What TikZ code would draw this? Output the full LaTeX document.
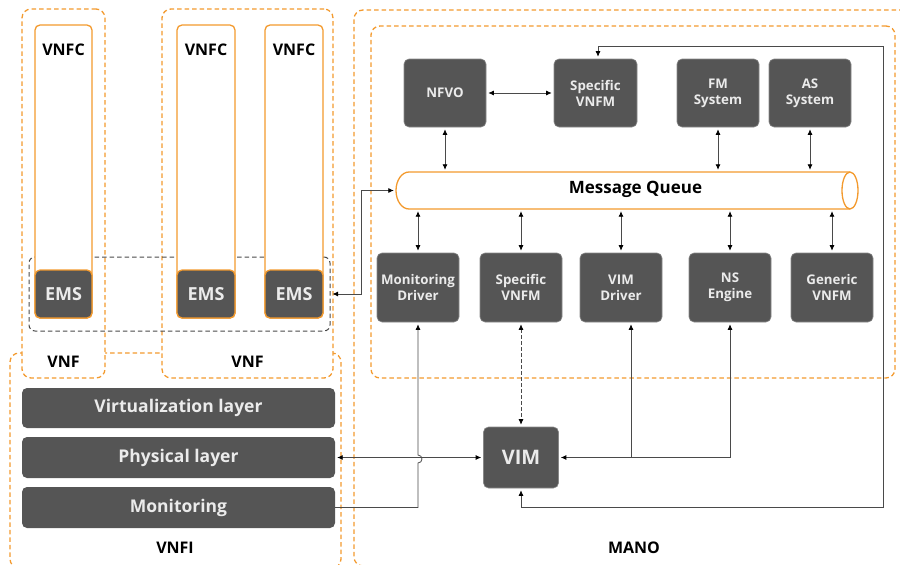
\documentclass[tikz,border=0pt]{standalone}
\usepackage{fontspec}
\setmainfont{Open Sans}
\usetikzlibrary{arrows.meta}
\definecolor{dg}{HTML}{555555}
\definecolor{org}{HTML}{F39A2E}
\definecolor{ln}{HTML}{4A4A4A}
\definecolor{gd}{HTML}{4A4A4A}
\begin{document}
\begin{tikzpicture}[x=1pt,y=-1pt,
  dbox/.style={fill=dg, draw=dg!70!white, line width=0.6pt, rounded corners=5pt, text=white!92!black,
    font=\bfseries\fontsize{13.3}{16}\selectfont, align=center, inner sep=0pt},
  obox/.style={draw=org, dashed, dash pattern=on 4.5pt off 3pt, line width=1.3pt, rounded corners=9pt, inner sep=0pt},
  gbox/.style={draw=gd, dashed, dash pattern=on 4.5pt off 3pt, line width=1pt, rounded corners=6pt, inner sep=0pt},
  vnfcbox/.style={draw=org, line width=1.3pt, fill=white, rounded corners=5pt, inner sep=0pt},
  emsbox/.style={draw=org, line width=1.3pt, fill=dg, rounded corners=5pt, inner sep=0pt, text=white!92!black,
    font=\bfseries\fontsize{18}{21}\selectfont},
  layer/.style={fill=dg, rounded corners=5pt, inner sep=0pt, text=white!92!black,
    font=\bfseries\fontsize{17.5}{20}\selectfont, minimum width=313pt},
  lbl/.style={font=\bfseries\fontsize{16}{19}\selectfont, text=black, inner sep=0pt},
  conn/.style={draw=ln, line width=0.8pt},
  tip/.tip={Latex[length=5.5pt,width=5pt,color=black]},
  dbl/.style={conn, tip-tip, shorten >=2pt, shorten <=2pt},
  sgl/.style={conn, -tip, shorten >=2pt},
]
\useasboundingbox (0,0) rectangle (900,565);
\clip (0,0) rectangle (900,565);

% containers
\node[obox, minimum width=331pt, minimum height=215pt] (vnfi) at (175.5,460.5) {};
\node[obox, minimum width=566pt, minimum height=556pt] (mano) at (637,288) {};
\node[obox, minimum width=524pt, minimum height=352pt] (manoin) at (633,202) {};
\node[obox, fill=white, minimum width=83pt, minimum height=369pt] (vnf1) at (63.5,193.5) {};
\node[obox, fill=white, minimum width=171pt, minimum height=369pt] (vnf2) at (247.5,193.5) {};
\node[gbox, minimum width=301pt, minimum height=74pt] (emsg) at (179.5,294) {};

% VNFCs
\node[vnfcbox, minimum width=57pt, minimum height=293pt] (vnfc1) at (63.5,171.5) {};
\node[vnfcbox, minimum width=58pt, minimum height=293pt] (vnfc2) at (206,171.5) {};
\node[vnfcbox, minimum width=58pt, minimum height=293pt] (vnfc3) at (294,171.5) {};
\node[lbl] (t1) at (63.5,50) {VNFC};
\node[lbl] (t2) at (206,50) {VNFC};
\node[lbl] (t3) at (294,50) {VNFC};
\node[emsbox, minimum width=57pt, minimum height=48pt] (ems1) at (63.5,294) {EMS};
\node[emsbox, minimum width=58pt, minimum height=48pt] (ems2) at (206,294) {EMS};
\node[emsbox, minimum width=58pt, minimum height=48pt] (ems3) at (294,294) {EMS};
\node[lbl] (l1) at (63.5,362) {VNF};
\node[lbl] (l2) at (247.5,362) {VNF};

% VNFI layers
\node[layer, minimum height=40pt] (virt) at (178.5,408) {Virtualization layer};
\node[layer, minimum height=41pt] (phys) at (178.5,457.5) {Physical layer};
\node[layer, minimum height=41pt] (mon) at (178.5,507.5) {Monitoring};
\node[lbl] (l3) at (175,548) {VNFI};
\node[lbl] (l4) at (634,548) {MANO};

% MANO nodes
\node[dbox, minimum width=82pt, minimum height=68pt] (nfvo) at (445,93) {NFVO};
\node[dbox, minimum width=83pt, minimum height=68pt] (sv1) at (595.5,93) {Specific\\VNFM};
\node[dbox, minimum width=82pt, minimum height=68pt] (fm) at (718,93) {FM\\System};
\node[dbox, minimum width=82pt, minimum height=68pt] (as) at (810,93) {AS\\System};

% message queue (horizontal cylinder)
\node[minimum width=462pt, minimum height=37pt, inner sep=0pt] (mq) at (627,190.5) {};
\fill[white] (850,172) -- (409,172) arc(270:90:13 and 18.5) -- (850,209) arc(90:-90:8 and 18.5) -- cycle;
\draw[org, line width=1.3pt] (850,172) -- (409,172) arc(270:90:13 and 18.5) -- (850,209);
\draw[org, line width=1.3pt] (850,190.5) ellipse (8 and 18.5);
\node[font=\bfseries\fontsize{17}{20}\selectfont, inner sep=0pt] (mqt) at (635.5,189) {Message Queue};

\node[dbox, minimum width=82pt, minimum height=69pt] (md) at (418,287.5) {Monitoring\\Driver};
\node[dbox, minimum width=82pt, minimum height=69pt] (sv2) at (521,287.5) {Specific\\VNFM};
\node[dbox, minimum width=82pt, minimum height=69pt] (vd) at (621,287.5) {VIM\\Driver};
\node[dbox, minimum width=82pt, minimum height=69pt] (ns) at (730,287.5) {NS\\Engine};
\node[dbox, minimum width=82pt, minimum height=69pt] (gv) at (832,287.5) {Generic\\VNFM};
\node[dbox, minimum width=75pt, minimum height=61pt, font=\bfseries\fontsize{20}{23}\selectfont] (vim) at (521,457.5) {VIM};

% connectors
\draw[dbl] (nfvo) -- (sv1);
\draw[dbl] (nfvo.south) -- (nfvo.south |- mq.north);
\draw[dbl] (fm.south) -- (fm.south |- mq.north);
\draw[dbl] (as.south) -- (as.south |- mq.north);
\foreach \n in {md,sv2,vd,ns,gv}{
  \draw[dbl] (\n.north |- mq.south) -- (\n.north);
}
\coordinate (e1) at (361,0);
\draw[dbl] (mq.west) -| (e1 |- emsg.east) -- (emsg.east);
\draw[dbl] (phys.east) -- (vim.west);
\coordinate (m1) at (418,507.5);
\draw[sgl] (mon.east) -- (m1) -- (418,463) arc(90:-90:4) -- (md.south);
\coordinate (j) at (631,457.5);
\draw[dbl] (ns.south) |- (vim.east);
\draw[sgl] (j) -- (j |- vd.south);
\draw[dbl, dash pattern=on 3.5pt off 2.5pt] (sv2.south) -- (vim.north);
\coordinate (r1) at (883,507);
\coordinate (r2) at (883,46);
\coordinate (s1) at (598,0);
\draw[dbl] (vim.south) |- (r1) -- (r2) -| (s1 |- sv1.north);
\end{tikzpicture}
\end{document}
